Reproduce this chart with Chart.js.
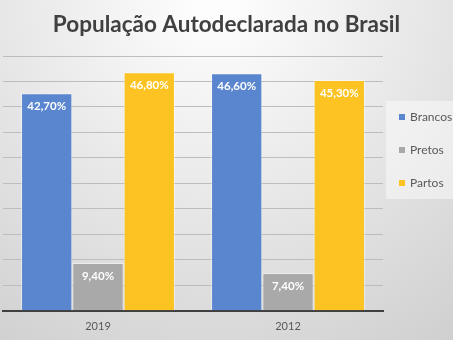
<!DOCTYPE html>
<html>
<head>
<meta charset="utf-8">
<title>População Autodeclarada no Brasil</title>
<script src="https://cdn.jsdelivr.net/npm/chart.js@4.4.0/dist/chart.umd.min.js"></script>
<style>
  body { margin: 0; background: #e6e6e6; }
  canvas { display: block; }
</style>
</head>
<body>
<canvas id="populacao" width="453" height="340"></canvas>
<script>
// anos do levantamento e percentuais por grupo
const anos = ['2019', '2012'];
const grupos = ['Brancos', 'Pretos', 'Partos'];
const brancos = [42.7, 46.6];
const pretos = [9.4, 7.4];
const partos = [46.8, 45.3];
const titulo = 'População Autodeclarada no Brasil';

const formatar = v => v.toFixed(2).replace('.', ',') + '%';

// fundo em degradê e título centralizado na largura toda
const fundo = {
  id: 'fundo',
  beforeDraw(chart) {
    const { ctx, width, height } = chart;
    const g = ctx.createRadialGradient(215, 0, 20, 215, 0, 470);
    g.addColorStop(0, '#fdfdfd');
    g.addColorStop(1, '#c9c9c9');
    ctx.save();
    ctx.fillStyle = g;
    ctx.fillRect(0, 0, width, height);
    ctx.font = 'bold 22.5px Lato';
    ctx.fillStyle = '#404040';
    ctx.textAlign = 'center';
    ctx.textBaseline = 'middle';
    ctx.fillText(titulo, width / 2, 25);
    ctx.restore();
  }
};

// percentuais em branco no topo de cada barra
const rotulos = {
  id: 'rotulos',
  afterDatasetsDraw(chart) {
    const { ctx } = chart;
    ctx.save();
    ctx.font = 'bold 11.5px Lato';
    ctx.fillStyle = '#ffffff';
    ctx.textAlign = 'center';
    ctx.textBaseline = 'middle';
    chart.data.datasets.forEach((ds, i) => {
      chart.getDatasetMeta(i).data.forEach((bar, j) => {
        ctx.fillText(formatar(ds.data[j]), bar.x, bar.y + 13);
      });
    });
    ctx.restore();
  }
};

// legenda lateral com caixa clara
const legenda = {
  id: 'legenda',
  afterDraw(chart) {
    const { ctx, chartArea } = chart;
    const x0 = chartArea.right + 3;
    const y0 = 101;
    ctx.save();
    ctx.fillStyle = 'rgba(255,255,255,0.45)';
    ctx.fillRect(x0, y0, chart.width - x0, 98);
    ctx.font = '12px Lato';
    ctx.textBaseline = 'middle';
    chart.data.datasets.forEach((ds, i) => {
      const y = y0 + 16 + i * 33;
      ctx.fillStyle = ds.backgroundColor;
      ctx.fillRect(x0 + 13, y - 3, 6, 6);
      ctx.fillStyle = '#595959';
      ctx.fillText(ds.label, x0 + 24, y);
    });
    ctx.restore();
  }
};

new Chart(document.getElementById('populacao'), {
  type: 'bar',
  data: {
    labels: anos,
    datasets: [
      { label: grupos[0], data: brancos, backgroundColor: '#5a86d0' },
      { label: grupos[1], data: pretos, backgroundColor: '#a9a9a9' },
      { label: grupos[2], data: partos, backgroundColor: '#fcc322' }
    ].map(ds => Object.assign(ds, {
      borderColor: 'rgba(255,255,255,0.45)',
      borderWidth: 1,
      barPercentage: 1,
      categoryPercentage: 0.81
    }))
  },
  options: {
    responsive: false,
    animation: false,
    layout: { padding: { top: 56, left: 3, right: 70, bottom: 6 } },
    plugins: {
      legend: { display: false },
      tooltip: { enabled: false },
      title: { display: false }
    },
    scales: {
      x: {
        grid: { display: false },
        border: { color: '#404040', width: 2 },
        ticks: { color: '#595959', font: { family: 'Lato', size: 11 }, padding: 1 }
      },
      y: {
        min: 0,
        max: 50,
        ticks: { stepSize: 5, display: false },
        border: { display: false },
        grid: { color: '#bdbdbd', lineWidth: 1, drawTicks: false }
      }
    }
  },
  plugins: [fundo, rotulos, legenda]
});
</script>
</body>
</html>
